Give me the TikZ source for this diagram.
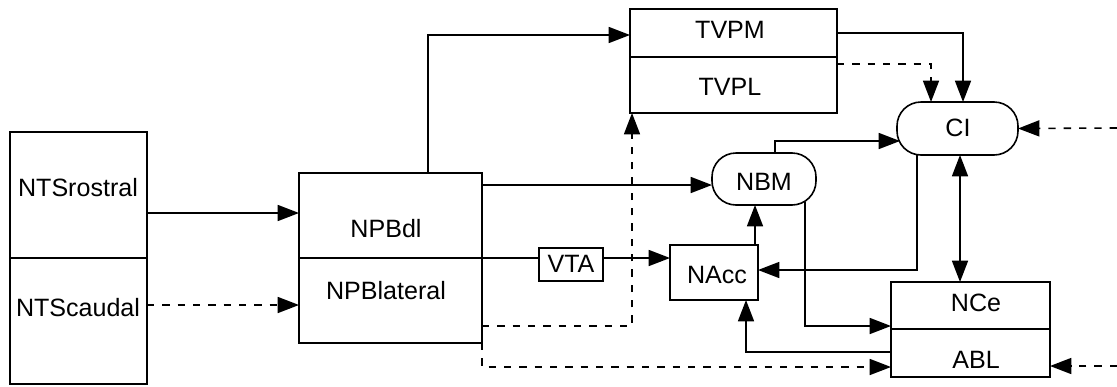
\documentclass[tikz,border=0pt]{standalone}
\usepackage{fontspec}
\setmainfont{Liberation Sans}
\usetikzlibrary{arrows.meta,fit}
\begin{document}
\begin{tikzpicture}[x=0.75pt,y=-0.75pt,
  line width=1.2pt,
  box/.style={draw,rectangle,inner sep=0pt,outer sep=0pt},
  pill/.style={draw,rectangle,rounded corners=18pt,inner sep=0pt,outer sep=0pt},
  txt/.style={font=\fontsize{18.8}{22}\selectfont,inner sep=0pt},
  arr/.style={-{Triangle[length=16pt,width=12pt]}},
  darr/.style={arr,dash pattern=on 5.5pt off 6pt},
  arrtwo/.style={{Triangle[length=16pt,width=12pt]}-{Triangle[length=16pt,width=12pt]}},
  ]
\useasboundingbox (0,0) rectangle (1117,386);

% boxes
\node[box,fit={(10,132) (147,258)}] (ntsr) {};
\node[box,fit={(10,258) (147,384)}] (ntsc) {};
\node[box,fit={(299,173) (482,258)}] (npbd) {};
\node[box,fit={(299,258) (482,343)}] (npbl) {};
\node[box,fit={(630,9) (837,57)}] (tvpm) {};
\node[box,fit={(630,57) (837,113)}] (tvpl) {};
\node[pill,fit={(897,102) (1018,155)}] (ci) {};
\node[pill,fit={(712,153) (816,205)}] (nbm) {};
\node[box,fit={(539,248) (603,281)}] (vta) {};
\node[box,fit={(670,245) (758,300)}] (nacc) {};
\node[box,fit={(891,282) (1050,329)}] (nce) {};
\node[box,fit={(891,329) (1050,377)}] (abl) {};

% texts
\node[txt] (tntsr) at (78,188) {NTSrostral};
\node[txt] (tntsc) at (78,308) {NTScaudal};
\node[txt] (tnpbd) at (386,229) {NPBdl};
\node[txt] (tnpbl) at (386,291) {NPBlateral};
\node[txt] (ttvpm) at (730,30) {TVPM};
\node[txt] (ttvpl) at (730,87) {TVPL};
\node[txt] (tci) at (958,128) {CI};
\node[txt] (tnbm) at (764,182) {NBM};
\node[txt] (tvta) at (571,264) {VTA};
\node[txt] (tnacc) at (717,275) {NAcc};
\node[txt] (tnce) at (976,303) {NCe};
\node[txt] (tabl) at (976,360) {ABL};

% free ends
\coordinate (inci) at (1117,128);
\coordinate (inabl) at (1117,366);

% connectors
\draw[arr] (ntsr.east |- 0,213) -- (npbd.west |- 0,213);
\draw[darr] (ntsc.east |- 0,305) -- (npbl.west |- 0,305);
\draw[arr] (npbd.north -| 428,0) |- (tvpm.west |- 0,35);
\draw[arr] (npbd.east |- 0,185) -- (nbm.west |- 0,185);
\draw (npbd.south east) -- (vta.west |- 0,258);
\draw[arr] (vta.east |- 0,258) -- (nacc.west |- 0,258);
\draw[darr] (npbl.east |- 0,326) -| (tvpl.south -| 632,0);
\draw[darr] (npbl.south east) |- (abl.west |- 0,367);
\draw[arr] (tvpm.east |- 0,33) -| (ci.north -| 963,0);
\draw[darr] (tvpl.east |- 0,64) -| (ci.north -| 931,0);
\draw[darr] (inci) -- (ci.east);
\draw[arr] (nbm.north -| 775,0) |- (900,141);
\draw[arr] (nacc.north -| 755,0) -- (nbm.south -| 755,0);
\draw[arr] (ci.south -| 917,0) |- (nacc.east |- 0,270);
\draw[arrtwo] (ci.south -| 960,0) -- (nce.north -| 960,0);
\draw[arr] (805,202) |- (nce.west |- 0,326);
\draw[arr] (abl.west |- 0,352) -| (nacc.south -| 746,0);
\draw[darr] (inabl) -- (abl.east |- 0,366);
\end{tikzpicture}
\end{document}
